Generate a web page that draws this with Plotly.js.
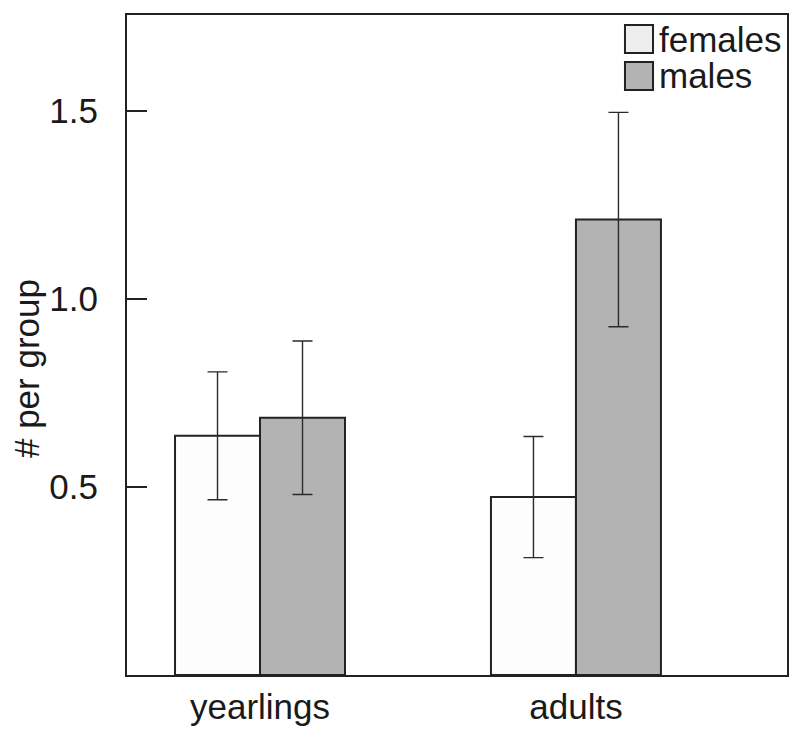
<!DOCTYPE html>
<html>
<head>
<meta charset="utf-8">
<script src="https://cdn.plot.ly/plotly-3.0.1.min.js"></script>
<style>html,body{margin:0;padding:0;background:#fff;}#chart{width:800px;height:729px;}</style>
</head>
<body>
<div id="chart"></div>
<script>
const categories = ["yearlings", "adults"];
const seriesNames = ["females", "males"];
const femalesValues = [0.636, 0.473];
const femalesErr = [0.170, 0.161];
const malesValues = [0.684, 1.211];
const malesErr = [0.204, 0.285];
const yTickVals = [0.5, 1.0, 1.5];
const yTickText = ["0.5", "1.0", "1.5"];
const yTitle = "# per group";

const FONT = "Liberation Sans, Arial, Helvetica, sans-serif";
const edge = "#222222";
const FS = 35;

const traces = [
  {
    type: "bar", name: seriesNames[0], x: categories, y: femalesValues,
    marker: {color: "#fdfdfd", line: {color: edge, width: 2}},
    error_y: {type: "data", array: femalesErr, visible: true, color: "#2a2a2a", thickness: 1.4, width: 10}
  },
  {
    type: "bar", name: seriesNames[1], x: categories, y: malesValues,
    marker: {color: "#b3b3b3", line: {color: edge, width: 2}},
    error_y: {type: "data", array: malesErr, visible: true, color: "#2a2a2a", thickness: 1.4, width: 10}
  }
];

const layout = {
  width: 800, height: 729,
  margin: {l: 127, r: 13, t: 15, b: 54, pad: 0},
  paper_bgcolor: "#fff", plot_bgcolor: "#fff",
  font: {family: FONT, size: FS, color: "#1a1a1a"},
  barmode: "group", bargap: 0.462, bargroupgap: 0,
  showlegend: false,
  xaxis: {
    type: "category", range: [-0.421, 1.668],
    showline: true, linecolor: edge, linewidth: 2, mirror: true,
    ticks: "", showgrid: false, zeroline: false,
    tickfont: {family: FONT, size: FS, color: "#1a1a1a"}
  },
  yaxis: {
    range: [0, 1.755], tickvals: yTickVals, ticktext: yTickText,
    ticks: "inside", ticklen: 20, tickwidth: 1.4, tickcolor: edge,
    ticklabelstandoff: 20,
    showline: true, linecolor: edge, linewidth: 2, mirror: true,
    showgrid: false, zeroline: false,
    tickfont: {family: FONT, size: FS, color: "#1a1a1a"}
  },
  shapes: [
    {type: "rect", xref: "paper", yref: "paper", x0: 0.7545, x1: 0.797, y0: 0.9424, y1: 0.9848,
     fillcolor: "#eeeeee", line: {color: edge, width: 2}},
    {type: "rect", xref: "paper", yref: "paper", x0: 0.7545, x1: 0.797, y0: 0.8864, y1: 0.9288,
     fillcolor: "#b3b3b3", line: {color: edge, width: 2}}
  ],
  annotations: [
    {xref: "paper", yref: "paper", x: 0.803, y: 0.9636, xanchor: "left", yanchor: "middle",
     text: seriesNames[0], showarrow: false, font: {family: FONT, size: FS, color: "#1a1a1a"}},
    {xref: "paper", yref: "paper", x: 0.803, y: 0.9076, xanchor: "left", yanchor: "middle",
     text: seriesNames[1], showarrow: false, font: {family: FONT, size: FS, color: "#1a1a1a"}},
    {xref: "paper", yref: "paper", x: -0.153, y: 0.4636, xanchor: "center", yanchor: "middle",
     textangle: -90, text: yTitle, showarrow: false, font: {family: FONT, size: FS, color: "#1a1a1a"}}
  ]
};

Plotly.newPlot("chart", traces, layout, {displayModeBar: false, staticPlot: true});
</script>
</body>
</html>
